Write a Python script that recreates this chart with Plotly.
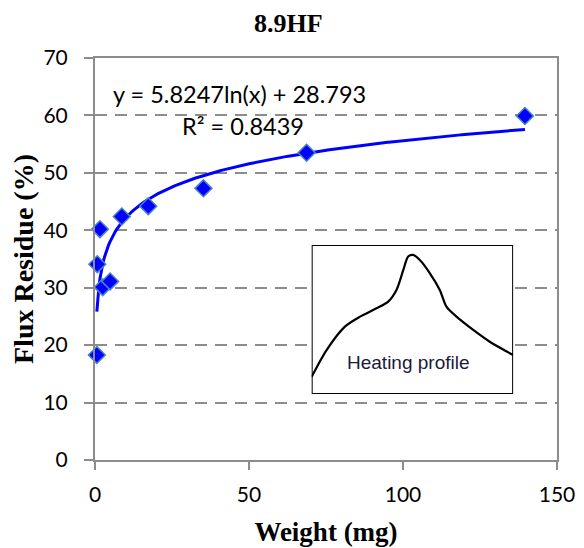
import numpy as np
import plotly.graph_objects as go

# Data
weight_mg = [0.6, 0.75, 1.6, 2.5, 4.9, 8.7, 17.3, 35.2, 68.7, 139.6]
flux_residue = [18.3, 34.1, 40.2, 30.1, 31.1, 42.4, 44.2, 47.3, 53.5, 59.9]

# Logarithmic trendline (from displayed equation)
trend_a = 5.8247
trend_b = 28.793
r_squared = 0.8439

# Inset heating profile (relative units 0-100)
profile_x = [0, 7.4, 16.5, 24.0, 32.2, 38.0, 42.1, 45.5, 47.9, 50.4, 53.7, 58.7, 63.6, 66.9, 71.9, 80.2, 88.4, 100]
profile_y = [11.6, 29.5, 45.2, 51.9, 57.5, 62.0, 69.8, 83.2, 92.2, 93.3, 89.9, 81.0, 69.8, 58.6, 51.9, 43.0, 35.1, 26.2]

x_ticks = [0, 50, 100, 150]
y_ticks = [0, 10, 20, 30, 40, 50, 60, 70]

tx = np.linspace(min(weight_mg), max(weight_mg), 400)
ty = trend_a * np.log(tx) + trend_b

fig = go.Figure()
fig.add_trace(go.Scatter(x=tx, y=ty, mode="lines",
                         line=dict(color="#0000FF", width=3), showlegend=False,
                         hoverinfo="skip"))
fig.add_trace(go.Scatter(x=weight_mg, y=flux_residue, mode="markers",
                         marker=dict(symbol="diamond", size=13, color="#0000FF",
                                     line=dict(color="#4A84C4", width=1.5)),
                         showlegend=False, cliponaxis=False))
fig.add_trace(go.Scatter(x=profile_x, y=profile_y, mode="lines",
                         line=dict(color="#000000", width=2.2, shape="spline", smoothing=0.8),
                         xaxis="x2", yaxis="y2", showlegend=False, hoverinfo="skip"))

axis_font = dict(family="Lato, Open Sans, sans-serif", size=21, color="#000000")
serif = "Liberation Serif, Times New Roman, serif"

fig.update_layout(
    width=584, height=548,
    margin=dict(l=87, r=35, t=50, b=96),
    paper_bgcolor="white", plot_bgcolor="white",
    title=dict(text="<b>8.9HF</b>", x=0.480, xanchor="center", y=0.9726, yanchor="middle",
               font=dict(family=serif, size=26, color="#000000")),
    xaxis=dict(range=[0, 150], tickvals=x_ticks, ticktext=[str(v) for v in x_ticks],
               showgrid=False, zeroline=False, showline=True, linecolor="#8C8C8C", linewidth=2,
               mirror=True, ticks="outside", ticklen=8, tickwidth=2, tickcolor="#8C8C8C",
               tickfont=axis_font, ticklabelstandoff=7,
               title=dict(text="<b>Weight (mg)</b>", font=dict(family=serif, size=27, color="#000000"),
                          standoff=17)),
    yaxis=dict(range=[0, 70], tickvals=y_ticks, ticktext=[str(v) for v in y_ticks],
               showgrid=True, gridcolor="#8C8C8C", gridwidth=2, griddash="12px,8px",
               zeroline=False, showline=True, linecolor="#8C8C8C", linewidth=2,
               mirror=True, ticks="outside", ticklen=9, tickwidth=2, tickcolor="#8C8C8C",
               tickfont=axis_font, ticklabelstandoff=12,
               title=dict(text="<b>Flux Residue (%)</b>", font=dict(family=serif, size=28, color="#000000"),
                          standoff=4)),
    xaxis2=dict(domain=[0.469, 0.905], anchor="y2", range=[0, 100], visible=False),
    yaxis2=dict(domain=[0.164, 0.535], anchor="x2", range=[0, 100], visible=False),
    shapes=[dict(type="rect", xref="x2", yref="y2", x0=0, x1=100, y0=0, y1=100,
                 fillcolor="white", line=dict(color="#000000", width=2), layer="between")],
    annotations=[
        dict(text="y = %.4fln(x) + %.3f" % (trend_a, trend_b), xref="paper", yref="paper",
             x=0.034, y=0.910, xanchor="left", yanchor="middle", showarrow=False,
             font=dict(family="Lato, Open Sans, sans-serif", size=23.5, color="#000000")),
        dict(text="R² = %.4f" % r_squared, xref="paper", yref="paper",
             x=0.184, y=0.831, xanchor="left", yanchor="middle", showarrow=False,
             font=dict(family="Lato, Open Sans, sans-serif", size=23.5, color="#000000")),
        dict(text="Heating profile", xref="x2", yref="y2", x=48.3, y=21,
             xanchor="center", yanchor="middle", showarrow=False,
             font=dict(family="Liberation Sans, Arial, sans-serif", size=19, color="#1a1a3a")),
    ],
)

fig.write_html("out.html")
